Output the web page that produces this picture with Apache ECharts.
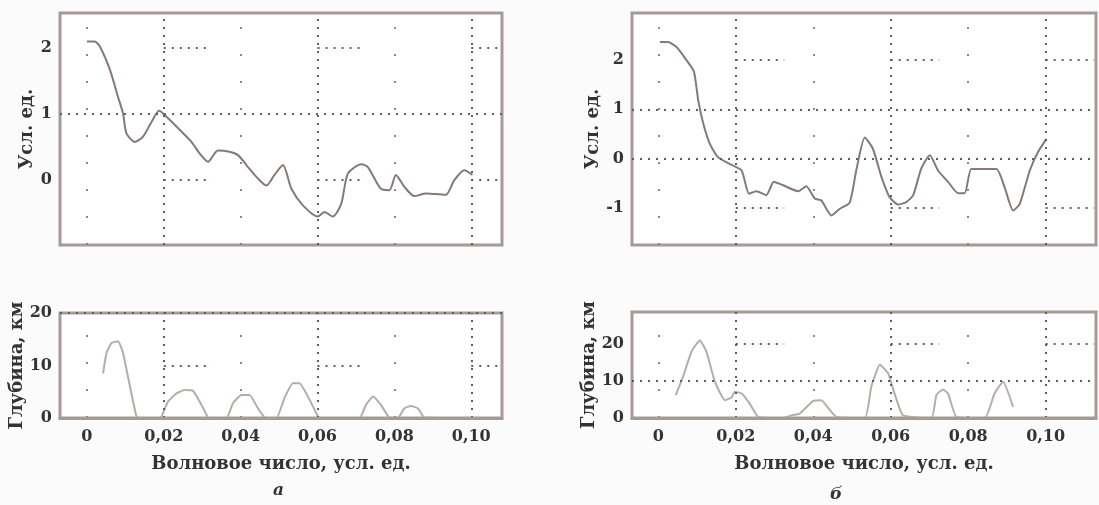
<!DOCTYPE html>
<html><head><meta charset="utf-8">
<script src="https://cdn.jsdelivr.net/npm/echarts@6/dist/echarts.min.js"></script>
<style>html,body{margin:0;padding:0;background:#fbfbfb}#c{width:1099px;height:505px}</style>
</head><body><div id="c"></div>
<script>
// ---- data ----
const tlX = [0,0.002,0.0034,0.006,0.0081,0.0094,0.0103,0.0125,0.0146,0.0168,0.0188,0.0207,0.0242,0.0272,0.0294,0.0315,0.0341,0.0371,0.0393,0.0415,0.0441,0.0467,0.0488,0.051,0.0532,0.0562,0.0601,0.0618,0.064,0.0662,0.0679,0.0714,0.0731,0.0765,0.0787,0.0804,0.0826,0.0852,0.0882,0.0908,0.0934,0.0956,0.0982,0.1003];
const tlY = [2.1,2.1,2.02,1.67,1.26,1.01,0.71,0.58,0.66,0.88,1.05,0.96,0.76,0.58,0.4,0.28,0.45,0.43,0.38,0.23,0.05,-0.08,0.08,0.23,-0.13,-0.38,-0.55,-0.48,-0.55,-0.35,0.1,0.24,0.2,-0.13,-0.15,0.08,-0.1,-0.24,-0.2,-0.21,-0.22,0,0.15,0.08];
const trX = [0.0004,0.0025,0.0047,0.0073,0.0092,0.0103,0.0116,0.0133,0.0154,0.0185,0.0215,0.0234,0.0253,0.0279,0.0298,0.0322,0.0361,0.0382,0.0404,0.0421,0.0447,0.0468,0.0494,0.0511,0.0533,0.0554,0.0576,0.0597,0.0619,0.064,0.0658,0.0679,0.0701,0.0722,0.0748,0.0774,0.0791,0.0808,0.0838,0.0873,0.0894,0.0916,0.0933,0.0959,0.098,0.1002];
const trY = [2.36,2.36,2.26,1.99,1.76,1.18,0.71,0.3,0.03,-0.11,-0.24,-0.71,-0.66,-0.74,-0.47,-0.54,-0.66,-0.56,-0.81,-0.85,-1.15,-1.02,-0.89,-0.24,0.43,0.2,-0.37,-0.78,-0.93,-0.88,-0.74,-0.2,0.07,-0.24,-0.47,-0.7,-0.7,-0.21,-0.21,-0.21,-0.58,-1.05,-0.92,-0.24,0.13,0.4];
const blX = [0.0042,0.0051,0.0064,0.0081,0.0094,0.0112,0.0129,0.0135,0.0188,0.0194,0.0211,0.0233,0.0255,0.0276,0.0298,0.0315,0.032,0.0363,0.038,0.0402,0.0423,0.0445,0.0462,0.0468,0.0493,0.0514,0.0536,0.0553,0.0575,0.0597,0.0605,0.0709,0.0726,0.0745,0.0765,0.0787,0.0809,0.0826,0.0843,0.0861,0.0878,0.1];
const blY = [8.5,12.4,14.3,14.6,12.4,6.0,0.25,0,0,0.25,3.1,4.7,5.35,5.2,2.5,0.1,0,0,2.8,4.4,4.4,1.85,0.1,0,0,3.8,6.6,6.6,4.1,0.9,0,0,2.5,4.1,2.5,0.1,0,1.85,2.3,1.85,0.1,0];
const brX = [0.0045,0.0064,0.0086,0.0107,0.0124,0.0146,0.0172,0.0189,0.0197,0.0215,0.0236,0.0258,0.0322,0.0344,0.0365,0.04,0.0421,0.0443,0.046,0.0533,0.055,0.0572,0.0593,0.061,0.0632,0.0705,0.0718,0.0735,0.0748,0.077,0.0843,0.0868,0.089,0.0916];
const brY = [6.2,11.2,18,20.9,18,9.8,4.8,5.5,7.1,6.6,3.9,0.3,0,0.7,1.2,4.6,4.8,2.1,0.3,0,8.5,14.4,12.1,6.6,0.7,0,6.2,7.7,6.6,0.3,0,6.6,9.8,3.0];
const xTicks = [0,0.02,0.04,0.06,0.08,0.10];
const tlTicks = [0,1,2];
const trTicks = [-1,0,1,2];
const depthTicksL = [0,10,20];
const depthTicksR = [0,10,20];
// grid-line levels
const majorX = [0.02,0.06,0.10];
const minorX = [0,0.04,0.08];
const tlMajorY = [1], tlShortY = [0,2];
const trMajorY = [0,1], trShortY = [-1,2];
const blMajorY = [20], blShortY = [10];
const brMajorY = [10], brShortY = [20];
const shortStarts = [0.02,0.06,0.10];
const shortLen = 0.0125;

const FONT = '"DejaVu Serif", "Liberation Serif", serif';
const FRAME = '#a59b96';
const zip = (a,b) => a.map((v,i)=>[v,b[i]]);
const fmtX = v => v===0 ? '0' : v.toFixed(2).replace('.',',');

function marks(xmax, majY, shortY){
  const dark = {color:'#5e5e5e', width:2, type:[2,6]};
  const faint = {color:'#8a8a8a', width:2, type:[2,25]};
  const data = [];
  majorX.forEach(v=>data.push({xAxis:v, lineStyle:dark}));
  minorX.forEach(v=>data.push({xAxis:v, lineStyle:faint}));
  majY.forEach(v=>data.push({yAxis:v, lineStyle:dark}));
  shortY.forEach(y=>shortStarts.forEach(s=>{
    data.push([{coord:[s,y], lineStyle:dark},{coord:[Math.min(s+shortLen,xmax),y]}]);
  }));
  return {silent:true, symbol:['none','none'], label:{show:false}, animation:false, data};
}

const frame = {show:true, borderColor:FRAME, borderWidth:3, backgroundColor:'#ffffff'};
const grids = [
  Object.assign({left:60, top:13, width:442, height:232}, frame),
  Object.assign({left:632, top:13, width:464, height:232}, frame),
  Object.assign({left:60, top:313, width:442, height:105}, frame),
  Object.assign({left:632, top:312, width:464, height:106}, frame)
];
const nameStyle = {fontFamily:FONT, fontWeight:'bold', fontSize:18, color:'#333'};
const tickStyle = {fontFamily:FONT, fontWeight:'bold', fontSize:16, color:'#333'};
const xr = [[-0.007,0.108],[-0.0068,0.113],[-0.007,0.108],[-0.0068,0.113]];
const xAxes = xr.map((r,i)=>({
  type:'value', gridIndex:i, min:r[0], max:r[1], z:6,
  axisLine: i<2 ? {show:false} : {show:true, lineStyle:{color:FRAME, width:3}},
  axisTick:{show:false}, splitLine:{show:false},
  axisLabel: i<2 ? {show:false} : Object.assign({customValues:xTicks, formatter:fmtX, margin:11}, tickStyle),
  name: i<2 ? '' : 'Волновое число, усл. ед.', nameLocation:'middle', nameGap:37,
  nameTextStyle:nameStyle
}));
const yDefs = [
  {min:-0.98, max:2.53, ticks:tlTicks, name:'Усл. ед.', gap:24},
  {min:-1.75, max:2.95, ticks:trTicks, name:'Усл. ед.', gap:25},
  {min:0, max:20, ticks:depthTicksL, name:'Глубина, км', gap:28},
  {min:0, max:28.6, ticks:depthTicksR, name:'Глубина, км', gap:30}
];
const yAxes = yDefs.map((d,i)=>({
  type:'value', gridIndex:i, min:d.min, max:d.max,
  axisLine:{show:false}, axisTick:{show:false}, splitLine:{show:false},
  axisLabel:Object.assign({customValues:d.ticks, margin:8}, tickStyle),
  name:d.name, nameLocation:'middle', nameGap:d.gap,
  nameTextStyle:nameStyle
}));
const lineTop = {color:'#857a75', width:2};
const lineBot = {color:'#b8aca6', width:2};
const series = [
  {type:'line', xAxisIndex:0, yAxisIndex:0, data:zip(tlX,tlY), symbol:'none', smooth:0.25, lineStyle:lineTop, markLine:marks(0.108, tlMajorY, tlShortY), z:3},
  {type:'line', xAxisIndex:1, yAxisIndex:1, data:zip(trX,trY), symbol:'none', smooth:0.2, lineStyle:lineTop, markLine:marks(0.113, trMajorY, trShortY), z:3},
  {type:'line', xAxisIndex:2, yAxisIndex:2, data:zip(blX,blY), symbol:'none', smooth:0.15, lineStyle:lineBot, markLine:marks(0.108, blMajorY, blShortY), z:3},
  {type:'line', xAxisIndex:3, yAxisIndex:3, data:zip(brX,brY), symbol:'none', smooth:0.15, lineStyle:lineBot, markLine:marks(0.113, brMajorY, brShortY), z:3}
];
const chart = echarts.init(document.getElementById('c'), null, {renderer:'canvas'});
chart.setOption({
  backgroundColor:'#fbfbfb', animation:false,
  grid:grids, xAxis:xAxes, yAxis:yAxes, series,
  graphic:[
    {type:'text', left:273, top:482, style:{text:'а', font:'italic bold 17px '+FONT, fill:'#333'}},
    {type:'text', left:830, top:486, style:{text:'б', font:'italic bold 17px '+FONT, fill:'#333'}}
  ]
});
</script></body></html>
